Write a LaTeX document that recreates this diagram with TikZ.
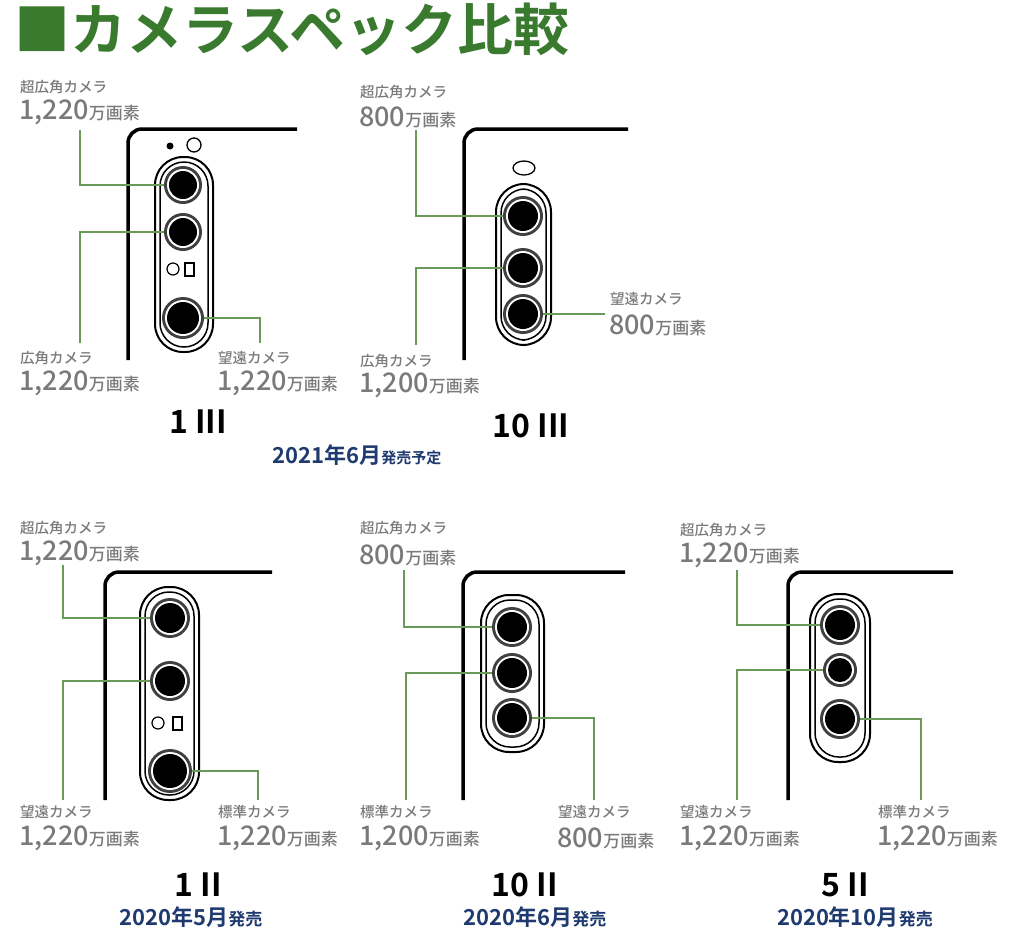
\documentclass[tikz,border=0pt]{standalone}
\usepackage{fontspec}
\setmainfont{Noto Sans CJK JP Medium}
\newfontfamily\jpb{Noto Sans CJK JP Bold}
\definecolor{lbl}{HTML}{7A7A7A}
\definecolor{gline}{HTML}{6A9A5A}
\definecolor{ttl}{HTML}{3A7A2E}
\definecolor{dblue}{HTML}{1F3A6E}
\newcommand{\mylens}[4]{%
  \fill[black!75] (#2,#3) circle (#4);
  \fill[white] (#2,#3) circle (#4-3);
  \fill[black] (#2,#3) circle (#4-5);
  \node[circle,inner sep=0,minimum size=2*#4] (#1) at (#2,#3) {};}
\newcommand{\mymod}[4]{%
  \draw[line width=2pt,rounded corners=28] (#1,#2) rectangle (#3,#4);
  \draw[line width=1.5pt,rounded corners=24] (#1+5,#2+5) rectangle (#3-5,#4-5);}
\newcommand{\mybody}[4]{%
  \draw[line width=3.5pt,rounded corners=14] (#1,#2) |- (#4,#3);}
\tikzset{
  capl/.style={anchor=west,text=lbl,font=\fontsize{14.5}{14.5}\selectfont,inner sep=0},
  numl/.style={anchor=west,text=lbl,inner sep=0},
  conn/.style={gline,line width=1.6pt},
  model/.style={font=\jpb\fontsize{32}{32}\selectfont},
  datel/.style={text=dblue},
}
\newcommand{\lab}[4]{%
  \node[capl] (#1c) at (#2,#3) {#4};}
\newcommand{\numl}[4]{%
  \node[numl] (#1n) at (#2,#3) {\fontsize{27}{27}\selectfont #4\fontsize{17}{17}\selectfont 万画素};}
\begin{document}
\begin{tikzpicture}[x=1pt,y=-1pt]
\useasboundingbox (0,0) rectangle (1026,951);
\node[anchor=west,text=ttl,font=\jpb\fontsize{56}{56}\selectfont,inner sep=0] (title) at (14,29) {■カメラスペック比較};
% ---------- 1 III
\mybody{128}{360}{129}{297}
\fill (170,146) circle (3.5);
\draw[line width=1.3pt] (194,145) circle (7);
\mymod{155}{157}{213}{352}
\mylens{a1}{183}{185}{19}
\mylens{a2}{183}{232}{19}
\mylens{a3}{183}{318}{21}
\draw[line width=1.2pt] (173,269) circle (6);
\draw[line width=1.2pt] (185,263) rectangle (194,276);
\coordinate (a1e) at (80,130); \coordinate (a2e) at (80,343); \coordinate (a3e) at (260,343);
\draw[conn] (a1.west) -| (a1e);
\draw[conn] (a2.west) -| (a2e);
\draw[conn] (a3.east) -| (a3e);
\lab{a1}{20}{87}{超広角カメラ}\numl{a1}{19}{112}{1,220}
\lab{a2}{20}{358}{広角カメラ}\numl{a2}{19}{383}{1,220}
\lab{a3}{218}{358}{望遠カメラ}\numl{a3}{217}{383}{1,220}
\node[model] (m1) at (198,422) {1 III};
\node[datel] (d1) at (357,455) {\jpb\fontsize{22}{22}\selectfont 2021年6月\fontsize{15}{15}\selectfont 発売予定};
% ---------- 10 III
\mybody{464}{360}{129}{628}
\draw[line width=1.3pt] (524,168) ellipse (11 and 7);
\mymod{496}{184}{551}{345}
\mylens{b1}{523}{216}{20}
\mylens{b2}{523}{268}{20}
\mylens{b3}{523}{314}{20}
\coordinate (b1e) at (416,130); \coordinate (b2e) at (416,345); \coordinate (b3e) at (605,314);
\draw[conn] (b1.west) -| (b1e);
\draw[conn] (b2.west) -| (b2e);
\draw[conn] (b3.east) -- (b3e);
\lab{b1}{360}{92}{超広角カメラ}\numl{b1}{359}{117}{800}
\lab{b3}{610}{299}{望遠カメラ}\numl{b3}{609}{325}{800}
\lab{b2}{360}{361}{広角カメラ}\numl{b2}{359}{385}{1,200}
\node[model] (m2) at (531,426) {10 III};
% ---------- 1 II
\mybody{105}{800}{572}{272}
\mymod{140}{587}{199}{800}
\mylens{c1}{170}{618}{20}
\mylens{c2}{170}{681}{20}
\mylens{c3}{170}{771}{22}
\draw[line width=1.2pt] (158,723) circle (6);
\draw[line width=1.2pt] (173,717) rectangle (182,730);
\coordinate (c1e) at (63,565); \coordinate (c2e) at (63,800); \coordinate (c3e) at (258,800);
\draw[conn] (c1.west) -| (c1e);
\draw[conn] (c2.west) -| (c2e);
\draw[conn] (c3.east) -| (c3e);
\lab{c1}{20}{528}{超広角カメラ}\numl{c1}{19}{553}{1,220}
\lab{c2}{20}{812}{望遠カメラ}\numl{c2}{19}{838}{1,220}
\lab{c3}{218}{812}{標準カメラ}\numl{c3}{217}{838}{1,220}
\node[model] (m3) at (198,885) {1 II};
\node[datel] (d3) at (191,917) {\jpb\fontsize{22}{22}\selectfont 2020年5月\fontsize{17}{17}\selectfont 発売};
% ---------- 10 II
\mybody{463}{800}{572}{625}
\mymod{481}{595}{544}{752}
\mylens{e1}{512}{627}{20}
\mylens{e2}{512}{673}{20}
\mylens{e3}{512}{718}{20}
\coordinate (e1e) at (404,570); \coordinate (e2e) at (406,800); \coordinate (e3e) at (594,800);
\draw[conn] (e1.west) -| (e1e);
\draw[conn] (e2.west) -| (e2e);
\draw[conn] (e3.east) -| (e3e);
\lab{e1}{360}{528}{超広角カメラ}\numl{e1}{359}{555}{800}
\lab{e2}{360}{812}{標準カメラ}\numl{e2}{359}{838}{1,200}
\lab{e3}{558}{812}{望遠カメラ}\numl{e3}{557}{838}{800}
\node[model] (m4) at (525,885) {10 II};
\node[datel] (d4) at (535,917) {\jpb\fontsize{22}{22}\selectfont 2020年6月\fontsize{17}{17}\selectfont 発売};
% ---------- 5 II
\mybody{788}{800}{572}{953}
\mymod{810}{594}{870}{762}
\mylens{f1}{840}{625}{20}
\mylens{f2}{840}{670}{17}
\mylens{f3}{840}{719}{20}
\coordinate (f1e) at (737,570); \coordinate (f2e) at (737,800); \coordinate (f3e) at (921,800);
\draw[conn] (f1.west) -| (f1e);
\draw[conn] (f2.west) -| (f2e);
\draw[conn] (f3.east) -| (f3e);
\lab{f1}{680}{530}{超広角カメラ}\numl{f1}{679}{555}{1,220}
\lab{f2}{680}{812}{望遠カメラ}\numl{f2}{679}{838}{1,220}
\lab{f3}{878}{812}{標準カメラ}\numl{f3}{877}{838}{1,220}
\node[model] (m5) at (845,885) {5 II};
\node[datel] (d5) at (855,917) {\jpb\fontsize{22}{22}\selectfont 2020年10月\fontsize{17}{17}\selectfont 発売};
\end{tikzpicture}
\end{document}
